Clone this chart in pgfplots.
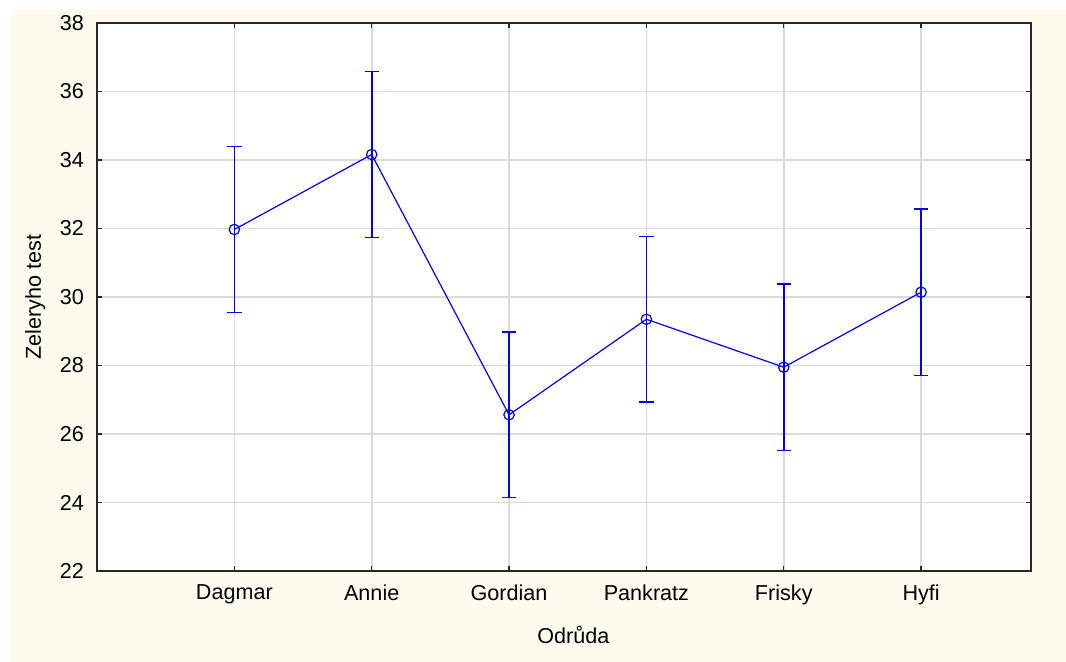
\documentclass[border=0pt]{standalone}
\usepackage{pgfplots}
\pgfplotsset{compat=1.18}
\usepackage{fontspec}
\setmainfont{Liberation Sans}
\definecolor{cream}{RGB}{255,250,238}
\definecolor{gridgray}{RGB}{218,218,218}
\definecolor{frame}{RGB}{40,40,40}
\definecolor{myblue}{RGB}{0,0,255}
\begin{document}
\begin{tikzpicture}
\path[use as bounding box] (0pt,0pt) rectangle (533pt,331pt);
\fill[cream] (5.5pt,0pt) rectangle (533pt,326pt);
\begin{axis}[
  at={(48.5pt,45.5pt)}, anchor=south west,
  scale only axis, width=467pt, height=274pt,
  xmin=0, xmax=6.8, ymin=22, ymax=38,
  xtick={1,2,3,4,5,6},
  xticklabels={Dagmar,Annie,Gordian,Pankratz,Frisky,Hyfi},
  ytick={22,24,...,38},
  tick align=inside, major tick length=2.5pt,
  tick style={frame, line width=0.7pt},
  axis line style={frame, line width=1pt},
  grid=major, major grid style={gridgray, line width=0.8pt},
  axis background/.style={fill=white},
  tick label style={font=\fontsize{10.8}{13}\selectfont, text=black},
  /pgf/number format/assume math mode=true,
  xticklabel style={yshift=-3.5pt},
  yticklabel style={xshift=-3pt},
  xlabel={Odrůda}, ylabel={Zeleryho test},
  label style={font=\fontsize{10.8}{13}\selectfont},
  xlabel style={at={(axis description cs:0.51,-0.117)}, anchor=center},
  ylabel style={at={(axis description cs:-0.066,0.5)}, anchor=center},
]
\addplot[color=myblue, line width=0.6pt, mark=o, mark size=2.6pt,
  mark options={solid, line width=0.6pt, draw=myblue},
  error bars/.cd, y dir=both, y explicit,
  error bar style={draw=myblue, line width=0.8pt},
  error mark options={rotate=90, mark size=3.6pt, line width=0.8pt, draw=myblue}]
coordinates {
 (1,31.97) +- (0,2.42)
 (2,34.16) +- (0,2.42)
 (3,26.56) +- (0,2.42)
 (4,29.35) +- (0,2.42)
 (5,27.95) +- (0,2.43)
 (6,30.14) +- (0,2.43)
};
\end{axis}
\end{tikzpicture}
\end{document}
